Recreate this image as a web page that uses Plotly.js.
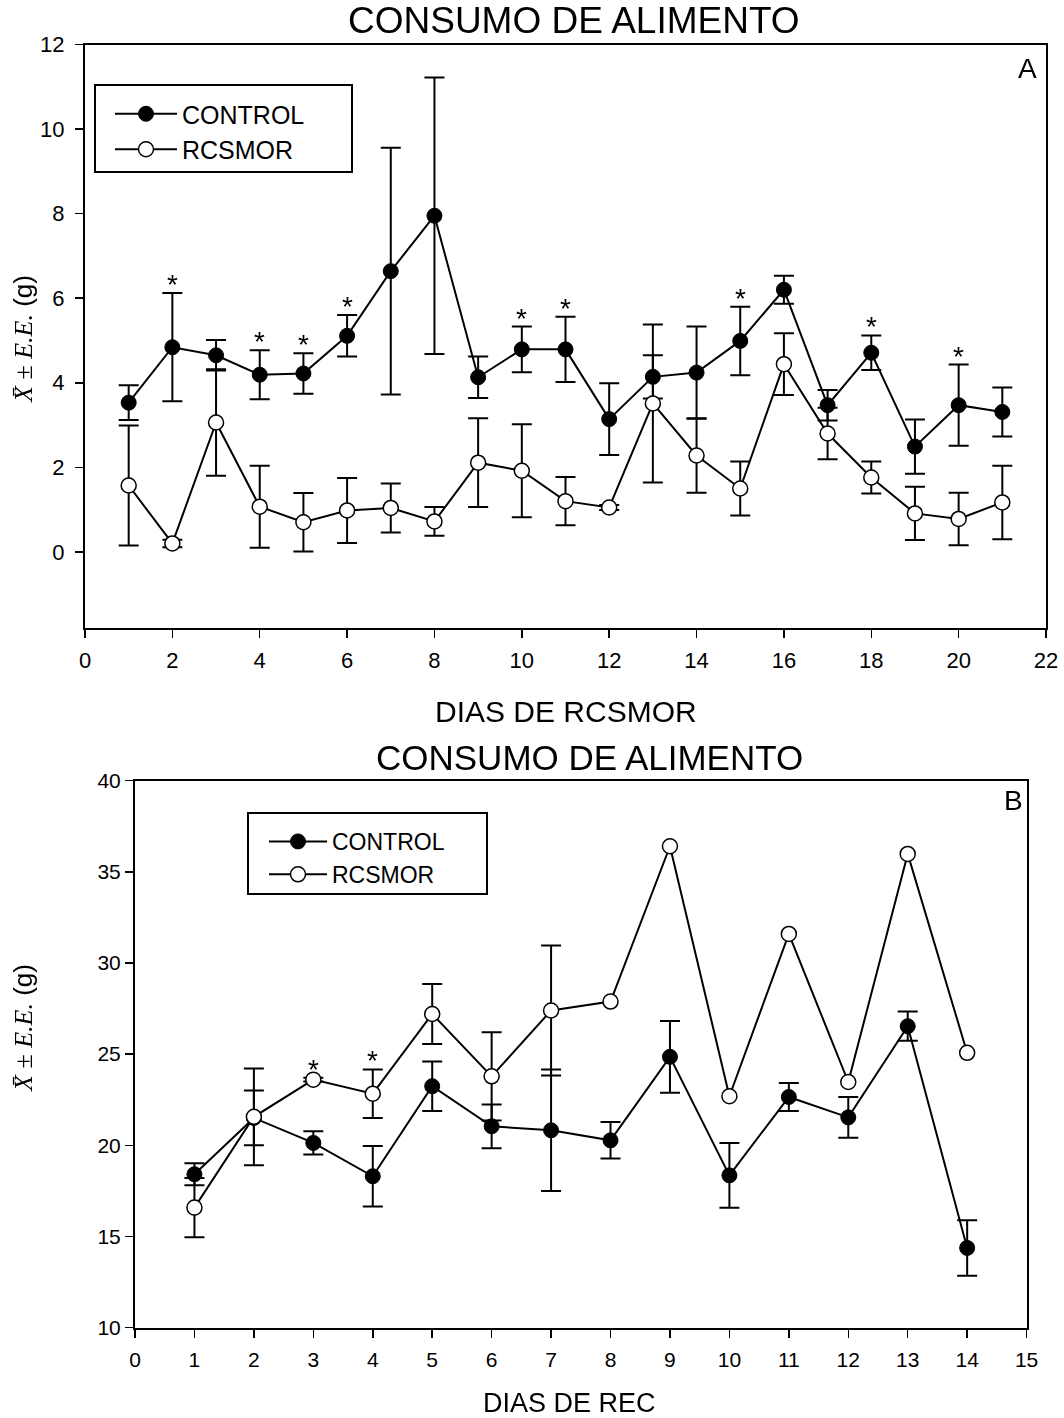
<!DOCTYPE html>
<html>
<head>
<meta charset="utf-8">
<script src="https://cdn.plot.ly/plotly-3.0.1.min.js"></script>
<style>
  html, body { margin: 0; padding: 0; background: #fff; }
  #chart { width: 1064px; height: 1418px; }
  /* keep rotated annotation text neutral grey-scale when anti-aliased */
  #chart g.annotation-text-g { filter: grayscale(1); }
</style>
</head>
<body>
<div id="chart"></div>
<script>
// Panel A: daily food intake during RCSMOR (days 1-21)
const daysA = [1, 2, 3, 4, 5, 6, 7, 8, 9, 10, 11, 12, 13, 14, 15, 16, 17, 18, 19, 20, 21];
const controlA = [3.53, 4.84, 4.65, 4.19, 4.22, 5.11, 6.64, 7.95, 4.13, 4.79, 4.79, 3.14, 4.14, 4.24, 4.99, 6.20, 3.47, 4.71, 2.49, 3.47, 3.31];
const controlAErr = [0.41, 1.28, 0.36, 0.58, 0.48, 0.49, 2.92, 3.27, 0.49, 0.54, 0.77, 0.85, 0.51, 1.09, 0.81, 0.33, 0.36, 0.41, 0.64, 0.96, 0.58];
const rcsmorA = [1.57, 0.20, 3.06, 1.07, 0.70, 0.98, 1.04, 0.72, 2.11, 1.92, 1.20, 1.05, 3.51, 2.28, 1.50, 4.44, 2.80, 1.76, 0.91, 0.78, 1.17];
const rcsmorAErr = [1.42, 0.09, 1.26, 0.97, 0.69, 0.77, 0.58, 0.34, 1.05, 1.10, 0.57, 0.06, 1.87, 0.88, 0.64, 0.73, 0.61, 0.38, 0.63, 0.62, 0.87];
const starDaysA = [2, 4, 5, 6, 10, 11, 15, 18, 20];

// Panel B: daily food intake during recovery (days 1-14)
const daysB = [1, 2, 3, 4, 5, 6, 7, 8, 9, 10, 11, 12, 13, 14];
const controlB = [18.41, 21.50, 20.13, 18.30, 23.24, 21.04, 20.82, 20.27, 24.85, 18.35, 22.65, 21.53, 26.53, 14.37];
const controlBErr = [0.60, 1.50, 0.64, 1.66, 1.36, 1.20, 3.33, 1.00, 1.97, 1.78, 0.77, 1.12, 0.80, 1.52];
const rcsmorB = [16.58, 21.56, 23.60, 22.83, 27.20, 23.78, 27.39, 27.88, 36.40, 22.69, 31.59, 23.47, 35.98, 25.07];
const rcsmorBErr = [1.63, 2.65, 0.10, 1.33, 1.64, 2.42, 3.56, NaN, NaN, NaN, NaN, NaN, NaN, NaN];
const starDaysB = [3, 4];

const yTicksA = [0, 2, 4, 6, 8, 10, 12];
const xTicksA = [0, 2, 4, 6, 8, 10, 12, 14, 16, 18, 20, 22];
const yTicksB = [10, 15, 20, 25, 30, 35, 40];
const xTicksB = [0, 1, 2, 3, 4, 5, 6, 7, 8, 9, 10, 11, 12, 13, 14, 15];

const W = 1064, H = 1418;
const px = v => v / W;
const py = v => 1 - v / H;

const FONT = 'Liberation Sans, Arial, sans-serif';
const lineW = 2;

function series(x, y, err, name, filled, xa, ya, legend) {
  return {
    type: 'scatter', mode: 'lines+markers', name: name,
    x: x, y: y, xaxis: xa, yaxis: ya, legend: legend,
    line: { color: '#000', width: lineW },
    marker: {
      symbol: 'circle', size: 15,
      color: filled ? '#000' : '#fff',
      line: { color: '#000', width: filled ? 1 : 1.5 }
    },
    error_y: { type: 'data', array: err, visible: true, color: '#000', thickness: 2, width: 10 }
  };
}

const traces = [
  series(daysA, controlA, controlAErr, 'CONTROL', true, 'x', 'y', 'legend'),
  series(daysA, rcsmorA, rcsmorAErr, 'RCSMOR', false, 'x', 'y', 'legend'),
  series(daysB, controlB, controlBErr, 'CONTROL', true, 'x2', 'y2', 'legend2'),
  series(daysB, rcsmorB, rcsmorBErr, 'RCSMOR', false, 'x2', 'y2', 'legend2')
];

function axis(size, extra) {
  return Object.assign({
    showgrid: false, zeroline: false, showline: true, mirror: true,
    linecolor: '#000', linewidth: 2,
    ticks: 'outside', ticklen: 8, tickwidth: 1.5, tickcolor: '#000',
    tickfont: { family: FONT, size: size, color: '#000' },
    tickmode: 'array', fixedrange: true
  }, extra);
}

const annotations = [];
function text(x, y, t, size, opts) {
  annotations.push(Object.assign({
    xref: 'paper', yref: 'paper', x: px(x), y: py(y), text: t, showarrow: false,
    font: { family: FONT, size: size, color: '#000' },
    xanchor: 'center', yanchor: 'middle'
  }, opts || {}));
}

// Titles and axis labels
text(574, 21, 'CONSUMO DE ALIMENTO', 37);
text(589, 758, 'CONSUMO DE ALIMENTO', 35);
text(566, 711, 'DIAS DE RCSMOR', 30);
text(569, 1403, 'DIAS DE REC', 27);
const yTitle = '<span style="font-family:Liberation Serif;color:#000"><i>X̄</i> ± <i>E.E.</i></span>' +
  '<span style="color:#000"> (g)</span>';
text(23, 339, yTitle, 26, { textangle: -90 });
text(23, 1028, yTitle, 26, { textangle: -90 });
text(1027, 68, 'A', 28);
text(1013, 800, 'B', 28);

// Significance marks above the error bars
const starFont = { family: FONT, size: 28, color: '#000' };
starDaysA.forEach(d => {
  const i = daysA.indexOf(d);
  annotations.push({
    xref: 'x', yref: 'y', x: d, y: controlA[i] + controlAErr[i], text: '*',
    showarrow: false, yanchor: 'bottom', yshift: -9, font: starFont
  });
});
starDaysB.forEach(d => {
  const i = daysB.indexOf(d);
  annotations.push({
    xref: 'x2', yref: 'y2', x: d, y: rcsmorB[i] + rcsmorBErr[i], text: '*',
    showarrow: false, yanchor: 'bottom', yshift: -9, font: starFont
  });
});

// Legend frames
const frame = (x0, y0, x1, y1) => ({
  type: 'rect', xref: 'paper', yref: 'paper',
  x0: px(x0), x1: px(x1), y0: py(y1), y1: py(y0),
  line: { color: '#000', width: 2 }, fillcolor: 'rgba(0,0,0,0)', layer: 'above'
});

const layout = {
  width: W, height: H,
  margin: { l: 0, r: 0, t: 0, b: 0 },
  paper_bgcolor: '#fff', plot_bgcolor: '#fff',
  font: { family: FONT, color: '#000' },
  showlegend: true,
  xaxis: axis(22, { domain: [px(85), px(1046)], range: [0, 22], tickvals: xTicksA, anchor: 'y', ticklabelstandoff: 4 }),
  yaxis: axis(22, { domain: [py(628), py(44.5)], range: [-1.8, 12], tickvals: yTicksA, anchor: 'x', ticklabelstandoff: 6 }),
  xaxis2: axis(21, { domain: [px(135), px(1026.6)], range: [0, 15], tickvals: xTicksB, anchor: 'y2', ticklabelstandoff: 4 }),
  yaxis2: axis(21, { domain: [py(1327.6), py(780.6)], range: [10, 40], tickvals: yTicksB, anchor: 'x2' }),
  legend: {
    x: px(110), y: py(91), xanchor: 'left', yanchor: 'top',
    bgcolor: 'rgba(0,0,0,0)', borderwidth: 0,
    font: { family: FONT, size: 25, color: '#000' },
    itemwidth: 62, tracegroupgap: 0
  },
  legend2: {
    x: px(264), y: py(820), xanchor: 'left', yanchor: 'top',
    bgcolor: 'rgba(0,0,0,0)', borderwidth: 0,
    font: { family: FONT, size: 23, color: '#000' },
    itemwidth: 58, tracegroupgap: 0
  },
  shapes: [frame(95, 85, 352, 172), frame(248, 813, 487, 894)],
  annotations: annotations
};

Plotly.newPlot('chart', traces, layout, { staticPlot: true, displayModeBar: false });
</script>
</body>
</html>
